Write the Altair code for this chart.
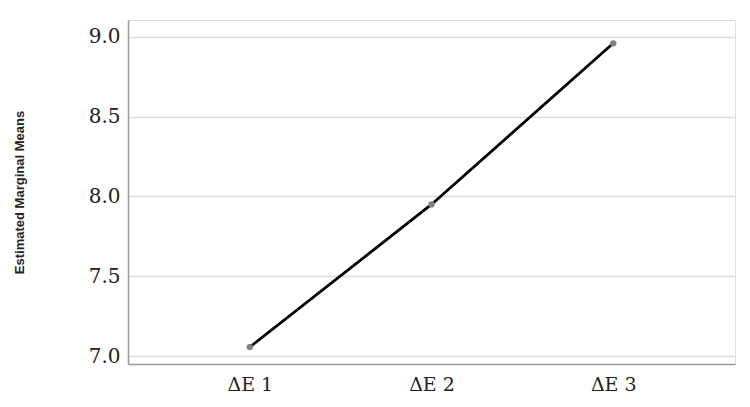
import altair as alt
import pandas as pd

categories = ["ΔE 1", "ΔE 2", "ΔE 3"]
means = [7.056, 7.95, 8.96]
y_ticks = [7.0, 7.5, 8.0, 8.5, 9.0]

df = pd.DataFrame({"cat": categories, "mean": means})

x = alt.X("cat:N", sort=categories, title=None,
          scale=alt.Scale(type="point", padding=0.67),
          axis=alt.Axis(labelAngle=0, labelFont="DejaVu Serif", labelFontSize=19,
                        labelColor="#222", labelPadding=11, ticks=False,
                        domainColor="#999", domainWidth=1.5, grid=False))
y = alt.Y("mean:Q", title="Estimated Marginal Means",
          scale=alt.Scale(domain=[6.95, 9.106], nice=False, zero=False),
          axis=alt.Axis(values=y_ticks, format=".1f", labelFont="DejaVu Serif",
                        labelFontSize=20, labelColor="#222", labelPadding=8,
                        ticks=False, domainColor="#999", domainWidth=1.5,
                        grid=True, gridColor="#dcdcdc", gridWidth=1.5,
                        titleFont="Liberation Sans", titleFontSize=13,
                        titleFontWeight="bold", titleColor="#222", titlePadding=62))

line = alt.Chart(df).mark_line(color="black", strokeWidth=2.8).encode(x=x, y=y)
pts = alt.Chart(df).mark_point(filled=True, color="#808080", size=40, opacity=1).encode(x=x, y=y)

chart = (line + pts).properties(
    width=607, height=344,
    padding={"left": 5, "top": 12, "right": 5, "bottom": 5},
).configure_view(stroke=None).configure(background="white")

chart.save("out.html", embed_options={"renderer": "svg", "actions": False})
